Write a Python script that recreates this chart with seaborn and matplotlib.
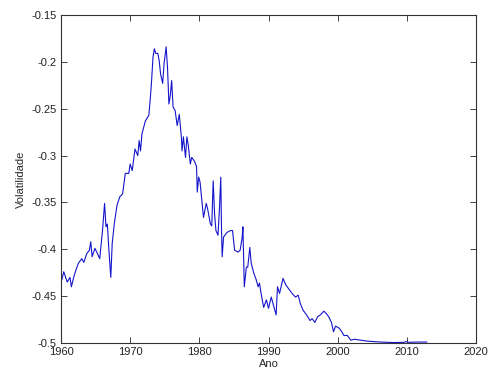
import matplotlib
matplotlib.use("Agg")
import matplotlib.pyplot as plt
import seaborn as sns
import pandas as pd

years = [1960.1, 1960.4, 1960.9, 1961.3, 1961.5, 1961.9, 1962.5, 1963.0, 1963.3, 1963.7,
         1964.1, 1964.3, 1964.5, 1964.9, 1965.3, 1965.6, 1965.9, 1966.0, 1966.3, 1966.5,
         1966.7, 1966.9, 1967.2, 1967.4, 1967.7, 1968.1, 1968.5, 1968.9, 1969.3, 1969.8,
         1970.0, 1970.3, 1970.7, 1971.1, 1971.3, 1971.5, 1971.7, 1972.2, 1972.7, 1972.9,
         1973.1, 1973.3, 1973.5, 1973.7, 1974.0, 1974.2, 1974.4, 1974.7, 1974.9, 1975.2,
         1975.4, 1975.6, 1975.8, 1976.0, 1976.2, 1976.5, 1976.8, 1977.1, 1977.4, 1977.5,
         1977.7, 1978.0, 1978.2, 1978.4, 1978.7, 1978.9, 1979.3, 1979.6, 1979.7, 1979.9,
         1980.1, 1980.4, 1980.6, 1981.0, 1981.2, 1981.6, 1981.8, 1982.0, 1982.2, 1982.4,
         1982.7, 1982.9, 1983.1, 1983.2, 1983.3, 1983.5, 1984.0, 1984.5, 1984.8, 1985.1,
         1985.6, 1985.9, 1986.2, 1986.3, 1986.5, 1986.8, 1987.0, 1987.3, 1987.5, 1987.9,
         1988.2, 1988.5, 1988.7, 1988.9, 1989.3, 1989.7, 1990.0, 1990.4, 1990.8, 1991.1,
         1991.3, 1991.6, 1992.1, 1992.5, 1992.9, 1993.4, 1993.9, 1994.3, 1994.6, 1995.0,
         1995.5, 1996.0, 1996.3, 1996.7, 1997.1, 1997.5, 1998.0, 1998.4, 1998.7, 1999.1,
         1999.4, 1999.7, 2000.2, 2000.6, 2000.9, 2001.4, 2001.9, 2002.4, 2003.3, 2004.3,
         2006.2, 2008.0, 2009.6, 2009.9, 2010.3, 2011.5, 2012.9]

volatility = [-0.433, -0.424, -0.435, -0.430, -0.440, -0.428, -0.415, -0.410, -0.414, -0.405,
              -0.401, -0.392, -0.408, -0.399, -0.405, -0.410, -0.387, -0.380, -0.351, -0.376,
              -0.373, -0.398, -0.430, -0.394, -0.373, -0.353, -0.344, -0.341, -0.319, -0.319,
              -0.309, -0.316, -0.293, -0.300, -0.284, -0.295, -0.277, -0.263, -0.257, -0.240,
              -0.220, -0.195, -0.186, -0.191, -0.191, -0.199, -0.213, -0.223, -0.202, -0.184,
              -0.206, -0.245, -0.236, -0.220, -0.248, -0.252, -0.268, -0.256, -0.280, -0.295,
              -0.280, -0.302, -0.280, -0.289, -0.309, -0.302, -0.306, -0.312, -0.339, -0.323,
              -0.328, -0.351, -0.366, -0.351, -0.357, -0.373, -0.375, -0.327, -0.362, -0.380,
              -0.385, -0.358, -0.323, -0.376, -0.408, -0.387, -0.382, -0.380, -0.380, -0.401,
              -0.403, -0.401, -0.387, -0.376, -0.440, -0.419, -0.419, -0.398, -0.415, -0.426,
              -0.432, -0.440, -0.436, -0.446, -0.462, -0.454, -0.463, -0.451, -0.462, -0.470,
              -0.440, -0.447, -0.431, -0.438, -0.442, -0.447, -0.451, -0.449, -0.458, -0.465,
              -0.470, -0.476, -0.474, -0.478, -0.472, -0.470, -0.466, -0.469, -0.472, -0.478,
              -0.488, -0.482, -0.484, -0.488, -0.492, -0.492, -0.497, -0.496, -0.497, -0.498,
              -0.499, -0.4995, -0.4993, -0.4985, -0.4993, -0.499, -0.499]

df = pd.DataFrame({"Ano": years, "Volatilidade": volatility})

sns.set_style("white")
plt.rcParams['font.family'] = ['Liberation Sans', 'DejaVu Sans']

fig = plt.figure(figsize=(4.89, 3.74), dpi=100)
ax = fig.add_axes([61/489, 1-343/374, (476-61)/489, (343-15)/374])
sns.lineplot(data=df, x="Ano", y="Volatilidade", ax=ax, color=(0.08, 0.08, 0.8),
             linewidth=0.8, estimator=None, sort=False)

ax.set_xlim(1960, 2020)
ax.set_ylim(-0.5, -0.15)
ax.set_xticks([1960, 1970, 1980, 1990, 2000, 2010, 2020])
ax.set_yticks([-0.5, -0.45, -0.4, -0.35, -0.3, -0.25, -0.2, -0.15])
ax.set_yticklabels(["-0.5", "-0.45", "-0.4", "-0.35", "-0.3", "-0.25", "-0.2", "-0.15"])
ax.tick_params(direction='in', length=4, width=0.6, labelsize=8, colors='#222222',
               top=True, right=True, bottom=True, left=True, pad=3)
for s in ax.spines.values():
    s.set_visible(True)
    s.set_color('#333333')
    s.set_linewidth(0.8)
ax.set_xlabel("Ano", fontsize=8, labelpad=1)
ax.set_ylabel("Volatilidade", fontsize=8, labelpad=4)

fig.savefig("out.png", dpi=100)
